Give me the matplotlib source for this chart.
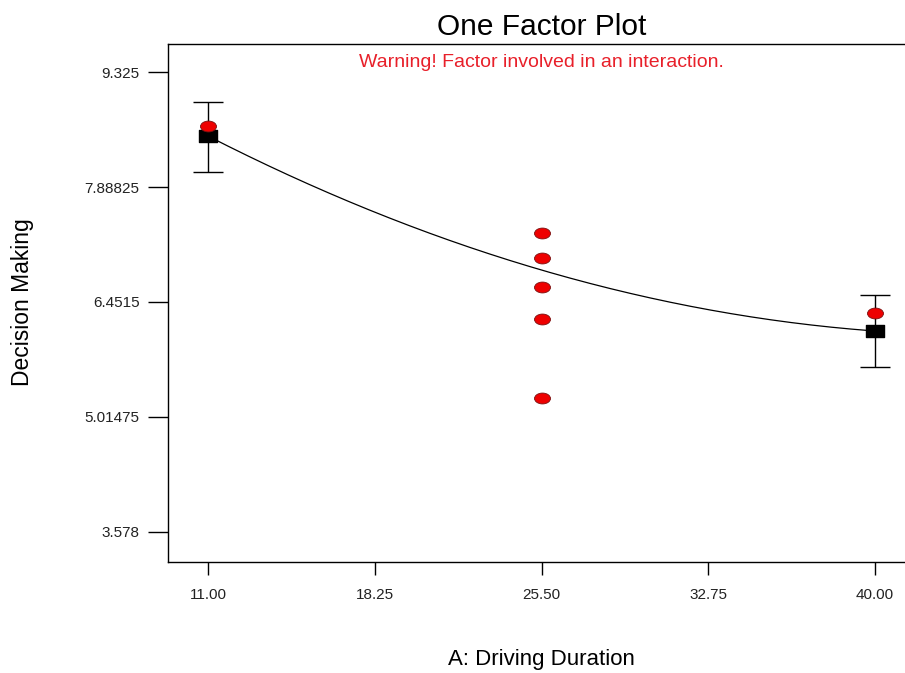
import numpy as np
import matplotlib
matplotlib.use("Agg")
import matplotlib.pyplot as plt
from matplotlib.path import Path
from matplotlib.transforms import Affine2D

plt.rcParams['font.family'] = ['Liberation Sans', 'DejaVu Sans']

# design points (actual runs)
run_x = [11.0, 25.5, 25.5, 25.5, 25.5, 25.5, 40.0]
run_y = [8.650, 7.314, 7.001, 6.639, 6.239, 5.252, 6.314]

# model prediction at the factor levels, with interval limits
pred_x = [11.0, 25.5, 40.0]
pred_y = [8.525, 6.851, 6.089]
bar_x = [11.0, 40.0]
bar_mid = [8.525, 6.089]
bar_low = [8.079, 5.639]
bar_high = [8.954, 6.539]

xticks = [11.0, 18.25, 25.5, 32.75, 40.0]
xtick_labels = ["11.00", "18.25", "25.50", "32.75", "40.00"]
yticks = [9.325, 7.88825, 6.4515, 5.01475, 3.578]
ytick_labels = ["9.325", "7.88825", "6.4515", "5.01475", "3.578"]

# squashed markers like the original export
ellipse = Path.unit_circle().transformed(Affine2D().scale(1.0, 0.68))
rect = Path([(-1, -0.65), (1, -0.65), (1, 0.65), (-1, 0.65), (-1, -0.65)],
            [Path.MOVETO, Path.LINETO, Path.LINETO, Path.LINETO, Path.CLOSEPOLY])

fig = plt.figure(figsize=(9.05, 6.73), dpi=100)
ax = fig.add_axes([168 / 905, 111 / 673, 747 / 905, 518 / 673])

# fitted curve through the predictions
coef = np.polyfit(pred_x, pred_y, 2)
xs = np.linspace(pred_x[0], pred_x[-1], 200)
ax.plot(xs, np.polyval(coef, xs), color='black', lw=0.9, zorder=2)

mid = np.array(bar_mid)
yerr = [mid - np.array(bar_low), np.array(bar_high) - mid]
ax.errorbar(bar_x, bar_mid, yerr=yerr, fmt='none', ecolor='black',
            elinewidth=1.0, capsize=11, capthick=1.0, zorder=3)
ax.plot(bar_x, bar_mid, linestyle='none', marker=rect, markersize=12.5,
        color='black', zorder=4)
ax.plot(run_x, run_y, linestyle='none', marker=ellipse, markersize=11.5,
        markerfacecolor='#ee0000', markeredgecolor='#7a1010',
        markeredgewidth=0.6, zorder=5)

ax.set_xlim(9.261, 41.739)
ax.set_ylim(3.203, 9.675)
ax.set_xticks(xticks, xtick_labels)
ax.set_yticks(yticks, ytick_labels)
ax.tick_params(axis='y', length=14.4, width=1.0, pad=6, labelsize=11,
               labelcolor='#222222')
ax.tick_params(axis='x', length=9.4, width=1.0, pad=9, labelsize=11,
               labelcolor='#222222')
ax.spines['right'].set_visible(False)
for s in ['left', 'top', 'bottom']:
    ax.spines[s].set_linewidth(1.0)

ax.text(0.5, 1 + 17 / 518, "One Factor Plot", transform=ax.transAxes,
        ha='center', va='center', fontsize=21.5, color='black')
ax.text(0.5, 0.965, "Warning! Factor involved in an interaction.",
        transform=ax.transAxes, ha='center', va='center', fontsize=14,
        color='#e8202a')

fig.text(541 / 905, 1 - 660 / 673, "A: Driving Duration", ha='center',
         va='center', fontsize=16)
fig.text(23 / 905, 1 - 302 / 673, "Decision Making", ha='center',
         va='center', rotation=90, fontsize=16.5)

fig.savefig("out.png", dpi=100)
